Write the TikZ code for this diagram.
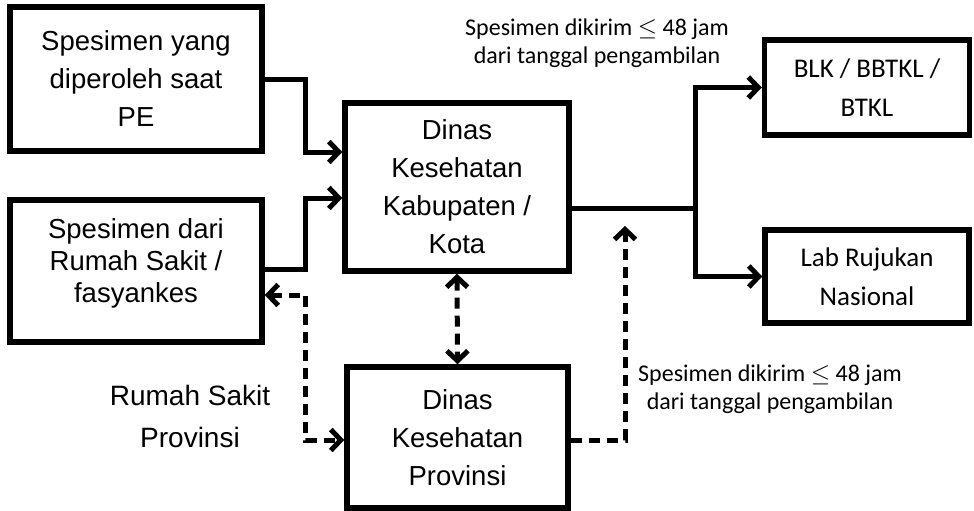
\documentclass[tikz,border=0pt]{standalone}
\usepackage{fontspec}
\setmainfont{Liberation Sans}
\newfontfamily\calibri{Carlito}
\usetikzlibrary{arrows.meta}

\begin{document}
\begin{tikzpicture}[x=1pt,y=-1pt,
  box/.style={draw, line width=5.5pt, inner sep=0pt, align=center,
    font=\fontsize{27.5}{38}\selectfont},
  labbox/.style={box, font=\calibri\fontsize{27}{39}\selectfont},
  conn/.style={line width=5pt},
  barb/.tip={Straight Barb[length=10pt,width=21pt,line width=5pt]},
  arr/.style={conn, -barb},
  dconn/.style={conn, dash pattern=on 11pt off 7pt},
  note/.style={align=center, inner sep=0pt, font=\calibri\fontsize{24}{28}\selectfont},
  plain/.style={align=center, inner sep=0pt, font=\fontsize{28}{42}\selectfont}
]
\useasboundingbox (0,0) rectangle (974,511);

% boxes
\node[box, minimum width=252pt, minimum height=144pt] (pe) at (136,79)
  {Spesimen yang\\diperoleh saat\\PE};
\node[box, minimum width=252pt, minimum height=142pt] (rs) at (136,271) {};
\node[align=center, inner sep=0pt, font=\fontsize{27.5}{32}\selectfont] (rstext) at (136,263)
  {Spesimen dari\\Rumah Sakit /\\fasyankes};
\node[box, minimum width=224pt, minimum height=168pt] (kab) at (457,187)
  {Dinas\\Kesehatan\\Kabupaten /\\Kota};
\node[box, minimum width=221pt, minimum height=141pt] (prov) at (457.5,437.5)
  {Dinas\\Kesehatan\\Provinsi};
\node[labbox, minimum width=205pt, minimum height=95pt] (blk) at (867,87.5)
  {BLK / BBTKL /\\BTKL};
\node[labbox, minimum width=204pt, minimum height=93pt] (lab) at (867,276.5)
  {Lab Rujukan\\Nasional};

% free-standing labels
\node[note] (note1) at (597,43) {Spesimen dikirim $\leq$ 48 jam\\dari tanggal pengambilan};
\node[note] (note2) at (770,389) {Spesimen dikirim $\leq$ 48 jam\\dari tanggal pengambilan};
\node[plain] (rsprov) at (190,416) {Rumah Sakit\\Provinsi};

% solid connectors into the district office
\draw[arr] (pe.east) -- ++(41,0) |- ([yshift=35pt]kab.west);
\draw[arr] ([yshift=2pt]rs.east) -- ++(41,0) |- ([yshift=-11pt]kab.west);

% district office out to the laboratories
\coordinate (split) at (695,208);
\draw[conn, line cap=rect] ([yshift=-21pt]kab.east) -- (split);
\draw[arr] (split) |- (blk.west);
\draw[arr] (split) |- (lab.west);

% dashed connectors around the provincial office
\draw[dconn, <->, >=barb] (kab.south) -- (prov.north);
\draw[dconn, <->, >=barb] ([yshift=-24pt]rs.east) -- ++(41,0) |- ([yshift=-2.5pt]prov.west);
\coordinate (uptip) at (625,226);
\draw[dconn, -barb] ([yshift=-2.5pt]prov.east) -| (uptip);
\end{tikzpicture}
\end{document}
